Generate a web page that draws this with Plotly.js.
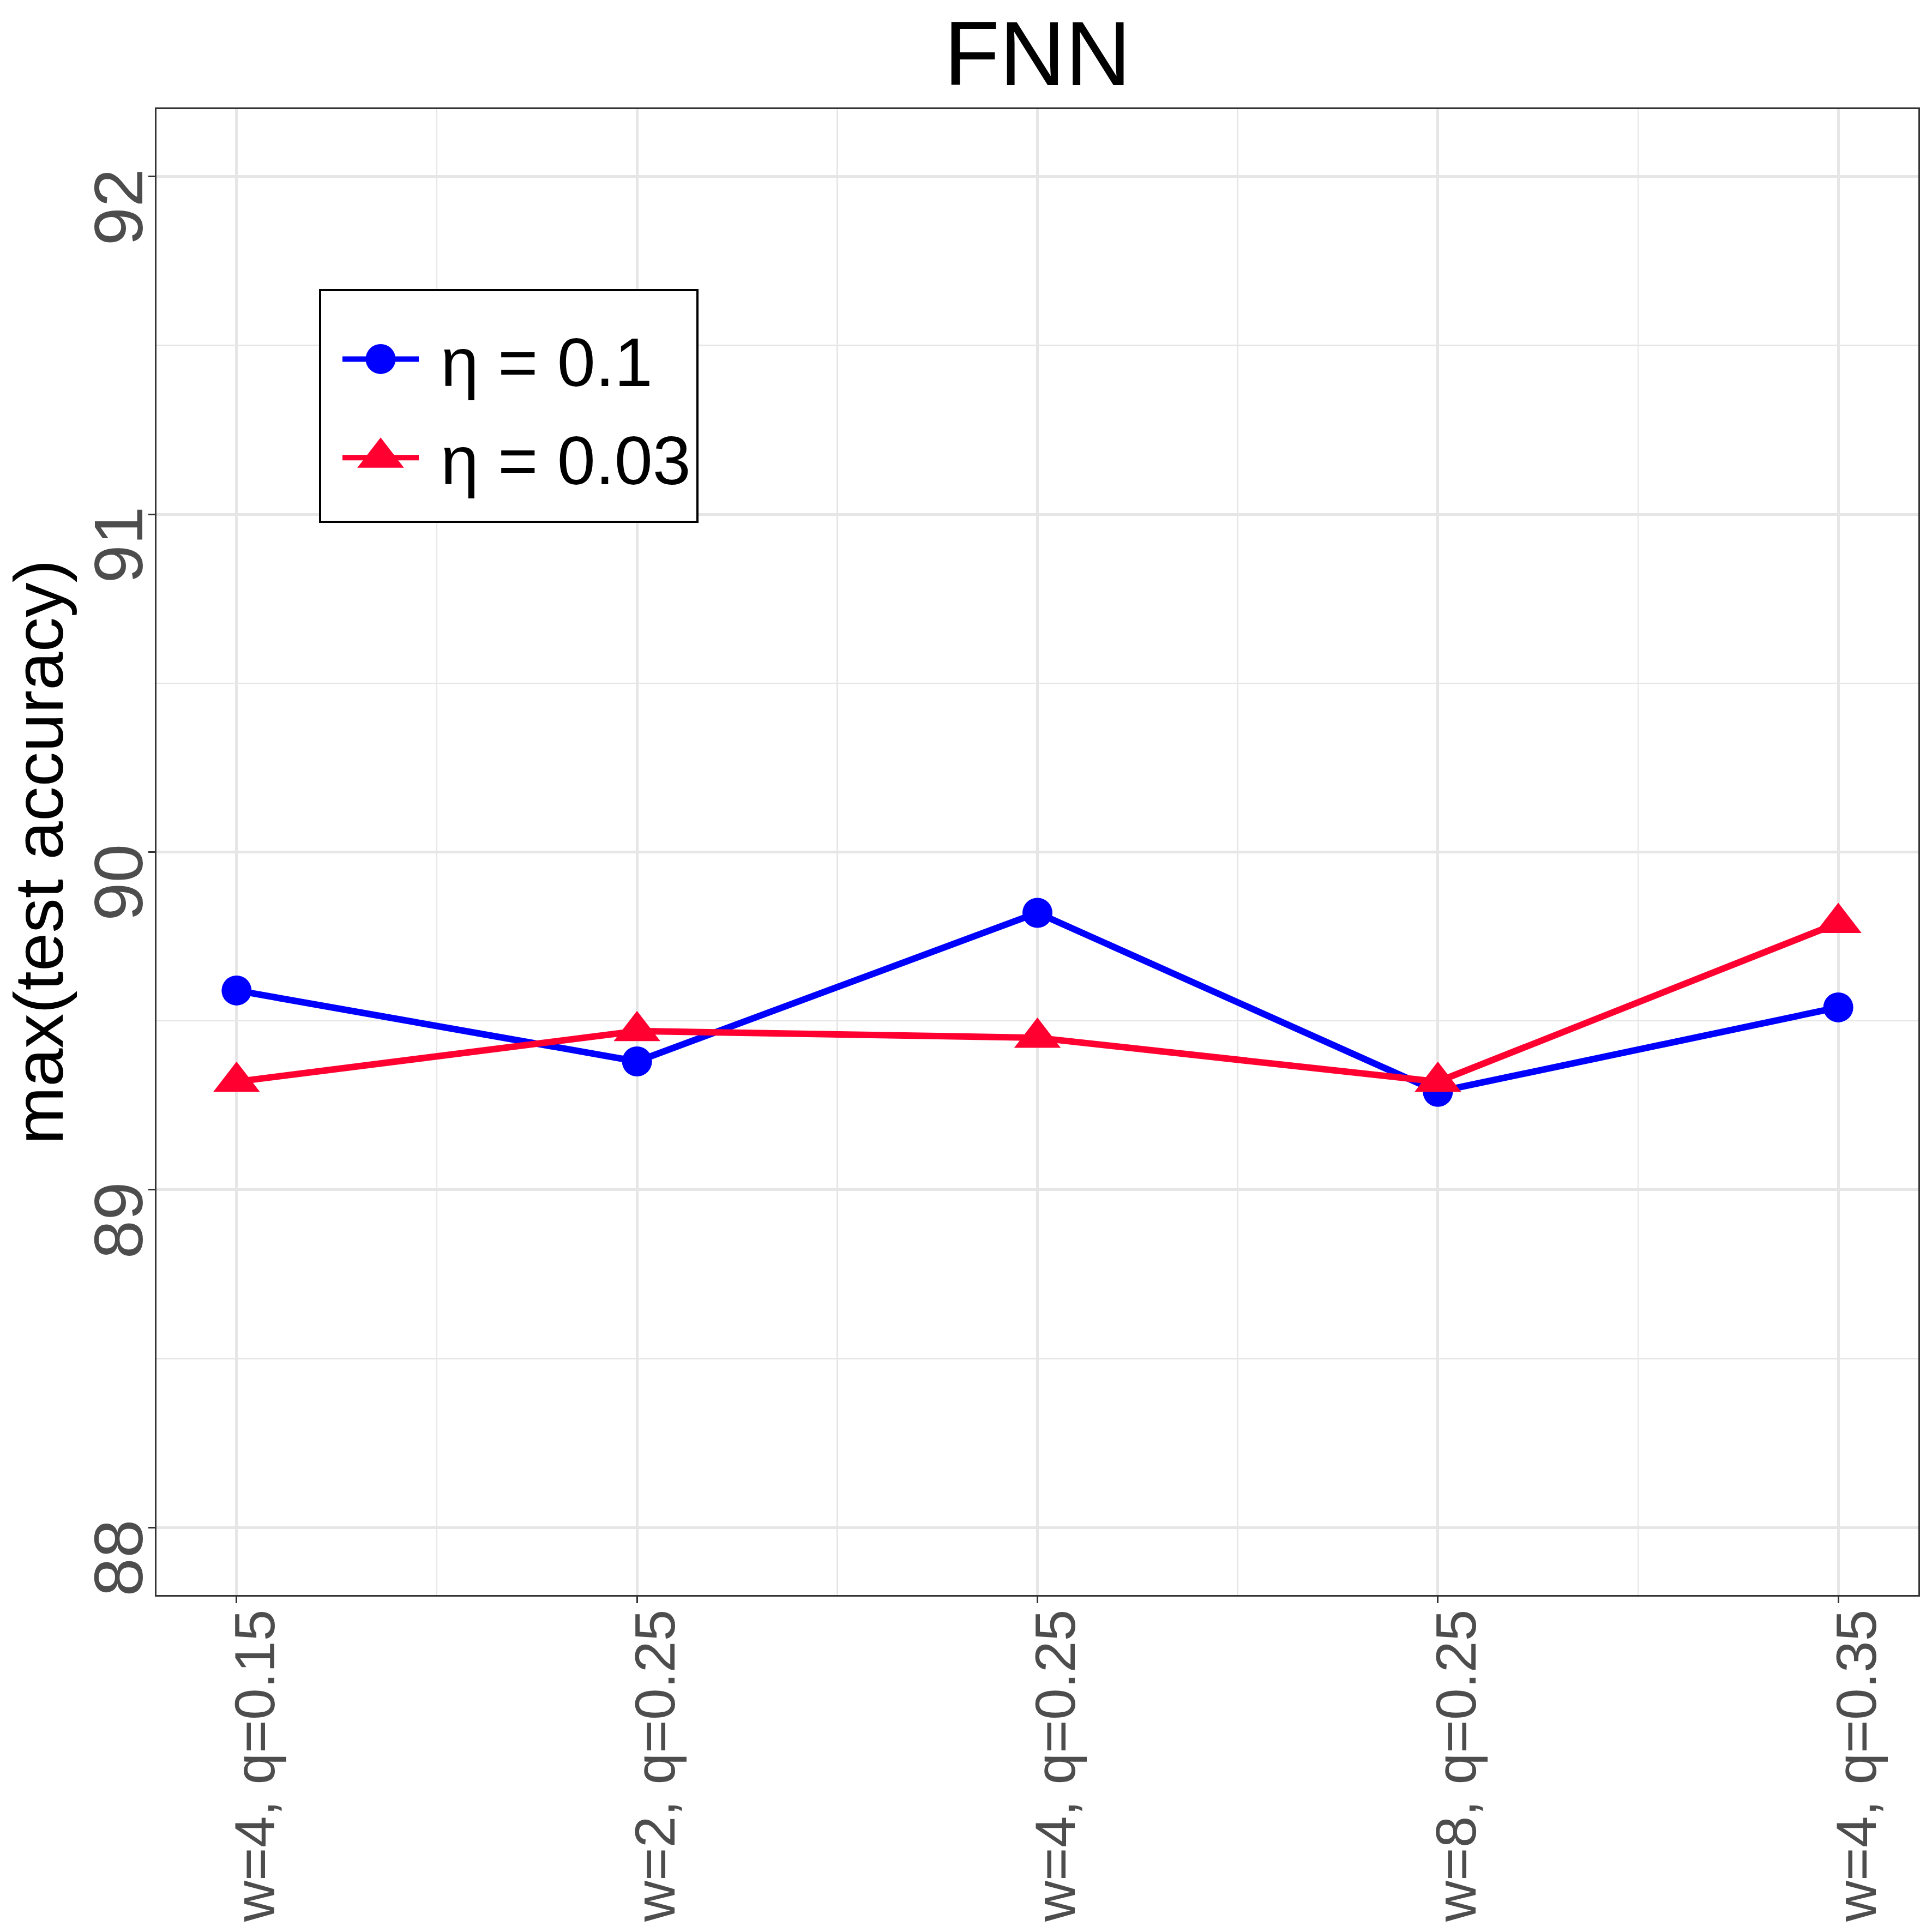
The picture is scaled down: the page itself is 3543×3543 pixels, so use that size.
<!DOCTYPE html>
<html>
<head>
<meta charset="utf-8">
<script src="https://cdn.plot.ly/plotly-3.0.1.min.js"></script>
<style>
  html, body { margin: 0; padding: 0; background: #fff; }
  #chart { width: 3543px; height: 3543px; }
</style>
</head>
<body>
<div id="chart"></div>
<script>
// settings on the x axis, in plotting order
const categories = ['w=4, q=0.15', 'w=2, q=0.25', 'w=4, q=0.25', 'w=8, q=0.25', 'w=4, q=0.35'];

// max test accuracy per setting
const accEta01  = [89.59, 89.38, 89.82, 89.29, 89.54];
const accEta003 = [89.32, 89.47, 89.45, 89.32, 89.79];

const seriesNames = ['η = 0.1', 'η = 0.03'];
const yTicks = [88, 89, 90, 91, 92];

const FONT = '"Liberation Sans", Arial, sans-serif';
const GRID = '#E6E6E6';
const W = 3543, H = 3543;
const M = { l: 287, r: 25, t: 200, b: 618 };
const xIdx = categories.map((_, i) => i);

// pixel -> paper helpers for the legend frame
const px = v => (v - M.l) / (W - M.l - M.r);
const py = v => 1 - (v - M.t) / (H - M.t - M.b);

const traces = [
  {
    type: 'scatter',
    mode: 'lines+markers',
    name: '\u00A0' + seriesNames[0],
    legendgroup: 'a',
    x: xIdx,
    y: accEta01,
    line: { color: '#0000FF', width: 12 },
    marker: { symbol: 'circle', size: 55, color: '#0000FF' }
  },
  {
    type: 'scatter',
    mode: 'lines+markers',
    name: '\u00A0' + seriesNames[1],
    legendgroup: 'b',
    x: xIdx,
    y: accEta003,
    line: { color: '#FF0030', width: 12 },
    marker: { symbol: 'triangle-up', size: 74, color: '#FF0030' }
  }
];

const layout = {
  width: W,
  height: H,
  paper_bgcolor: '#fff',
  plot_bgcolor: '#fff',
  font: { family: FONT, color: '#000' },
  margin: M,
  title: {
    text: 'FNN',
    font: { size: 167, color: '#000', family: FONT },
    x: 0.5, xref: 'paper', xanchor: 'center',
    y: 1 - 98 / H, yanchor: 'middle'
  },
  showlegend: true,
  legend: {
    x: px(623), xanchor: 'left',
    y: py(570), yanchor: 'top',
    bgcolor: 'rgba(0,0,0,0)',
    borderwidth: 0,
    font: { size: 126, color: '#000', family: FONT },
    itemwidth: 140,
    tracegroupgap: 14
  },
  shapes: [
    {
      type: 'rect', xref: 'paper', yref: 'paper', layer: 'above',
      x0: px(587), x1: px(1279), y0: py(532), y1: py(957),
      fillcolor: '#fff', line: { color: '#000', width: 4 }
    }
  ],
  xaxis: {
    range: [-0.2, 4.2],
    tickmode: 'array',
    tickvals: xIdx,
    ticktext: categories,
    tickangle: -90,
    tickfont: { size: 104, color: '#4D4D4D', family: FONT },
    ticklabelstandoff: -30,
    ticklabelshift: 35,
    ticks: 'outside', ticklen: 12, tickwidth: 3, tickcolor: '#333333',
    showgrid: true, gridcolor: GRID, gridwidth: 5,
    minor: { dtick: 0.5, tick0: 0, showgrid: true, gridcolor: GRID, gridwidth: 2.5, ticks: '' },
    showline: true, linecolor: '#333333', linewidth: 3, mirror: true,
    zeroline: false,
    automargin: false
  },
  yaxis: {
    range: [87.8, 92.2],
    tickmode: 'array',
    tickvals: yTicks,
    tickangle: -90,
    tickfont: { size: 127, color: '#4D4D4D', family: FONT },
    ticklabelstandoff: -40,
    ticklabelshift: 75,
    ticks: 'outside', ticklen: 12, tickwidth: 3, tickcolor: '#333333',
    showgrid: true, gridcolor: GRID, gridwidth: 5,
    minor: { dtick: 0.5, tick0: 88, showgrid: true, gridcolor: GRID, gridwidth: 2.5, ticks: '' },
    showline: true, linecolor: '#333333', linewidth: 3, mirror: true,
    zeroline: false,
    title: {
      text: 'max(test accuracy)',
      font: { size: 127, color: '#000', family: FONT },
      standoff: 64
    },
    automargin: false
  }
};

Plotly.newPlot('chart', traces, layout, { staticPlot: true, displayModeBar: false }).then(gd => {
  // legend symbols are capped at 16px by plotly; bring them up to the plot marker size
  const scales = [55 / 16, 74 / 16];
  gd.querySelectorAll('.legend .traces').forEach((g, i) => {
    g.querySelectorAll('.legendpoints path.scatterpts').forEach(p => {
      const t = p.getAttribute('transform') || '';
      p.setAttribute('transform', t + ' scale(' + scales[i] + ')');
    });
  });
});
</script>
</body>
</html>
